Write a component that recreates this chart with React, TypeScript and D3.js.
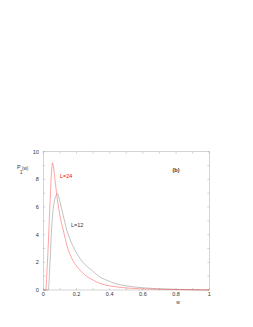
import React from "react";
import * as d3 from "d3";

const wL24 = [0, 0.015, 0.02, 0.03, 0.04, 0.05, 0.055, 0.06, 0.07, 0.08, 0.09, 0.10, 0.12, 0.15, 0.18, 0.22, 0.26, 0.30, 0.34, 0.40, 0.5, 0.6, 0.7, 0.8, 0.9, 1.0];
const pL24 = [0, 0, 0.9, 3.3, 6.2, 8.6, 9.2, 9.0, 8.0, 7.0, 6.1, 5.4, 4.34, 2.9, 2.1, 1.45, 1.0, 0.72, 0.48, 0.3, 0.15, 0.08, 0.05, 0.03, 0.02, 0];
const wL12 = [0, 0.03, 0.04, 0.05, 0.06, 0.07, 0.08, 0.085, 0.09, 0.10, 0.11, 0.12, 0.14, 0.16, 0.19, 0.22, 0.25, 0.29, 0.34, 0.4, 0.43, 0.5, 0.6, 0.7, 0.8, 0.9, 1.0];
const pL12 = [0, 0, 1.9, 4.4, 5.9, 6.6, 6.9, 6.95, 6.85, 6.4, 5.9, 5.4, 4.4, 3.7, 2.9, 2.3, 1.85, 1.45, 0.95, 0.62, 0.48, 0.3, 0.16, 0.09, 0.05, 0.02, 0];
const xTickLabels = [0, 0.2, 0.4, 0.6, 0.8, 1];
const yTickLabels = [0, 2, 4, 6, 8, 10];

export default function App() {
  const W = 253, H = 327;
  const x = d3.scaleLinear().domain([0, 1]).range([43.3, 209.3]);
  const y = d3.scaleLinear().domain([0, 10]).range([290, 151.7]);
  const line = d3.line<[number, number]>().x(d => x(d[0])).y(d => y(d[1])).curve(d3.curveMonotoneX);
  const red = line(wL24.map((w, i) => [w, pL24[i]] as [number, number])) || "";
  const blk = line(wL12.map((w, i) => [w, pL12[i]] as [number, number])) || "";
  const xMinor = d3.range(0, 11).map(i => i / 10);
  const yMinor = d3.range(0, 11);
  const font = "Liberation Sans, Arial, sans-serif";
  const frame = "#aaa";
  return (
    <svg width={W} height={H} style={{ position: "absolute", left: 0, top: 0 }}>
      <rect x={0} y={0} width={W} height={H} fill="#fff" />
      <rect x={x(0)} y={y(10)} width={x(1) - x(0)} height={y(0) - y(10)} fill="none" stroke={frame} strokeWidth={0.5} />
      {xMinor.map((t, i) => (
        <g key={"xt" + i}>
          <line x1={x(t)} x2={x(t)} y1={y(0)} y2={y(0) - 2} stroke={frame} strokeWidth={0.5} />
          <line x1={x(t)} x2={x(t)} y1={y(10)} y2={y(10) + 2} stroke={frame} strokeWidth={0.5} />
        </g>
      ))}
      {yMinor.map((t, i) => (
        <g key={"yt" + i}>
          <line x1={x(0)} x2={x(0) + 2} y1={y(t)} y2={y(t)} stroke={frame} strokeWidth={0.5} />
          <line x1={x(1)} x2={x(1) - 2} y1={y(t)} y2={y(t)} stroke={frame} strokeWidth={0.5} />
        </g>
      ))}
      {xTickLabels.map((t, i) => (
        <text key={"xl" + i} x={x(t)} y={296} fontSize={5.5} fontFamily={font} textAnchor="middle" fill="#333">{String(t)}</text>
      ))}
      {yTickLabels.map((t, i) => (
        <text key={"yl" + i} x={38.8} y={y(t) + 2} fontSize={5.5} fontFamily={font} textAnchor="end" fill="#333">{String(t)}</text>
      ))}
      <text x={178} y={303.5} fontSize={5} fontFamily={font} textAnchor="middle" fill="#333">w</text>
      <text x={17} y={169} fontSize={5.5} fontFamily={font} fill="#333">P</text>
      <text x={22} y={169.5} fontSize={4.5} fontFamily={font} fill="#333">(w)</text>
      <text x={20} y={173.5} fontSize={4.5} fontFamily={font} fill="#333">1</text>
      <text x={172.5} y={172} fontSize={5.5} fontFamily={font} fontWeight="bold" fill="#333">(b)</text>
      <text x={60} y={178} fontSize={5.5} fontFamily={font} fill="#f00">L=24</text>
      <text x={71} y={227} fontSize={5.5} fontFamily={font} fill="#333">L=12</text>
      <path d={blk} fill="none" stroke="#777" strokeWidth={0.45} />
      <path d={red} fill="none" stroke="#f33" strokeWidth={0.45} />
    </svg>
  );
}
